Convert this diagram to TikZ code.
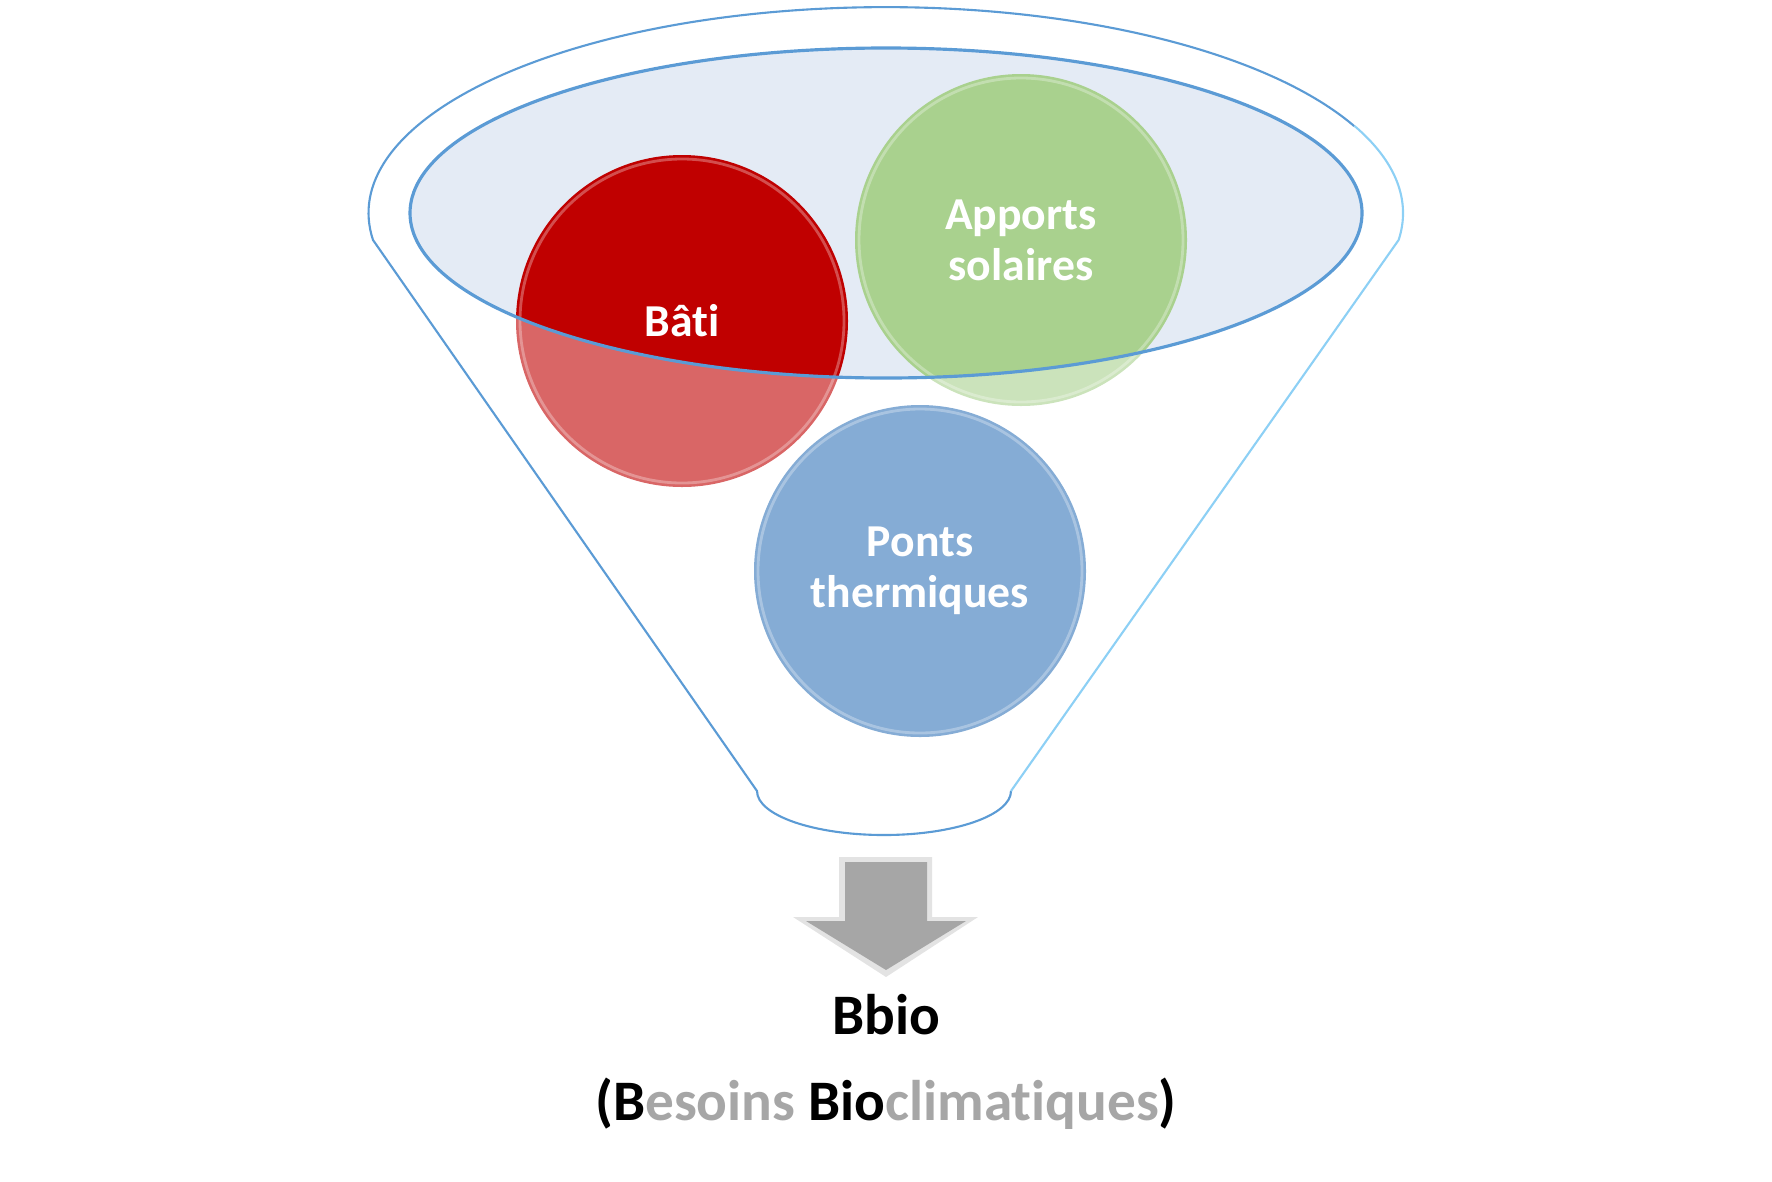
\documentclass[tikz,border=0pt]{standalone}
\usepackage{fontspec}
\setmainfont{Carlito}[Ligatures=NoCommon]
\usepackage{tikz}
\usetikzlibrary{positioning}
\definecolor{bleuTrait}{RGB}{91,155,213}
\definecolor{bleuClair}{RGB}{141,208,245}
\definecolor{fondEntonnoir}{RGB}{228,235,245}
\definecolor{rougeBati}{RGB}{192,0,0}
\definecolor{vertApports}{RGB}{169,209,142}
\definecolor{bleuPonts}{RGB}{52,117,185}
\definecolor{grisFleche}{RGB}{166,166,166}

\begin{document}
\begin{tikzpicture}[x=0.1mm, y=0.1mm,
    bulle/.style={circle, minimum size=33.2mm, inner sep=0pt, text=white, align=center,
      font=\bfseries\fontsize{13}{14.5}\selectfont},
    titre/.style={font=\bfseries\fontsize{16.3}{19}\selectfont}]
  \useasboundingbox (0,0) rectangle (1772,1181);
  \coordinate (haut) at (886,968);
  \fill[fondEntonnoir] (haut) ellipse [x radius=476, y radius=165];

  \node[bulle, fill=rougeBati] (bati) at (682,860) {Bâti};
  \node[bulle, fill=vertApports] (apports) at (1021,941) {Apports\\solaires};
  \node[bulle, fill=bleuPonts] (ponts) at (920,610) {Ponts\\thermiques};
  \foreach \n in {bati, apports, ponts}{
    \draw[white, opacity=.3, line width=.8pt] (\n.center) circle (162);
  }

  \fill[white, opacity=.4, even odd rule] (373,941)
    arc[start angle=187.5, end angle=-7.5, x radius=517, y radius=206] -- (1011,390)
    arc[start angle=0, end angle=-180, x radius=127, y radius=44] -- cycle
    (haut) ellipse [x radius=476, y radius=165];
  \draw[bleuTrait, line width=.9pt] (haut) ellipse [x radius=476, y radius=165];
  \draw[bleuTrait, line width=.6pt] (1011,390)
    arc[start angle=0, end angle=-180, x radius=127, y radius=44] -- (373,941)
    arc[start angle=187.5, end angle=25, x radius=517, y radius=206];
  \draw[bleuClair, line width=.6pt] (1011,390) -- (1398.6,941)
    arc[start angle=-7.5, end angle=25, x radius=517, y radius=206];

  \fill[gray!22] (839,324) -- (932,324) -- (932,264) -- (978,264) -- (886,204)
    -- (793,264) -- (839,264) -- cycle;
  \fill[grisFleche] (845,319) -- (927,319) -- (927,260) -- (966,260) -- (886,211)
    -- (806,260) -- (845,260) -- cycle;

  \node[titre] (bbio) at (886,166) {Bbio};
  \node[titre] (besoins) at (886,77) {(B\textcolor{grisFleche}{esoins} Bio\textcolor{grisFleche}{climatiques})};
\end{tikzpicture}
\end{document}
